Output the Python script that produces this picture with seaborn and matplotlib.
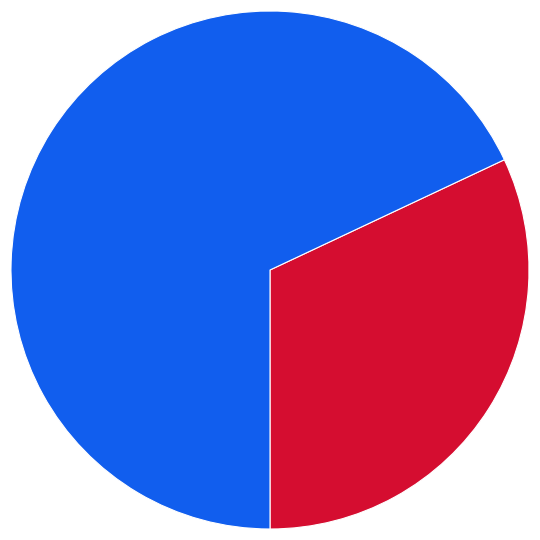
import matplotlib
matplotlib.use("Agg")
import matplotlib.pyplot as plt
import seaborn as sns

sns.set_style("white")

# slice data, red slice first, going counter-clockwise from 6 o'clock
labels = ["Red", "Blue"]
values = [32, 68]
colors = ["#D50D30", "#115EEE"]

fig = plt.figure(figsize=(5.4, 5.4), dpi=100)
ax = fig.add_axes([0, 0, 1, 1])
ax.pie(values, colors=colors, startangle=-90, counterclock=True,
       wedgeprops=dict(edgecolor="white", linewidth=0.8))
lim = 270 / 259
ax.set_xlim(-lim, lim)
ax.set_ylim(-lim, lim)
ax.set_aspect("equal")
ax.axis("off")
fig.savefig("out.png", dpi=100, facecolor="white")
